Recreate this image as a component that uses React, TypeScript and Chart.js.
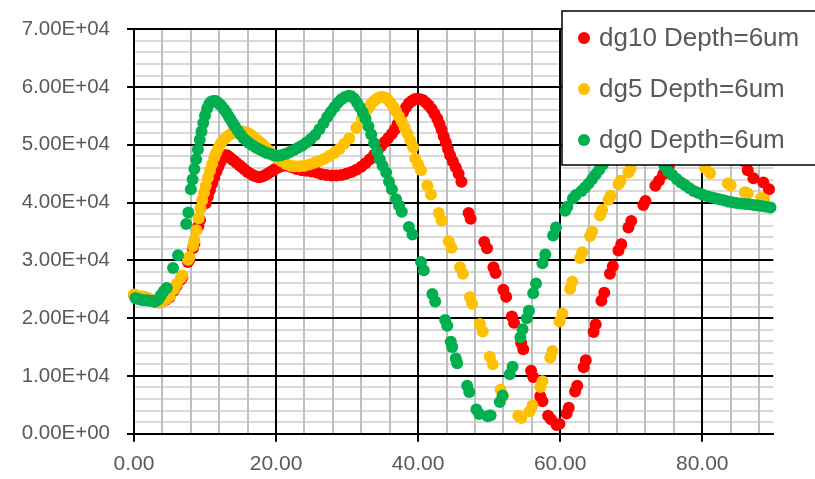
import React, { useEffect, useRef } from 'react';
import { Chart, registerables } from 'chart.js';

Chart.register(...registerables);

// ---- data ----
const seriesLabels = ['dg10 Depth=6um', 'dg5 Depth=6um', 'dg0 Depth=6um'];
const seriesColors = ['#FF0000', '#FFC000', '#00B050'];

const dg10X = [0.0, 0.5, 1.0, 1.5, 2.0, 2.5, 3.0, 3.5, 4.0, 4.5, 5.0, 5.6, 6.0, 6.6, 6.8, 7.6, 7.8, 8.3, 8.5, 9.05, 9.3, 10.1, 10.4, 10.7, 11.0, 11.3, 11.6, 11.9, 12.2, 12.5, 12.8, 13.1, 13.4, 13.7, 14.0, 14.4, 14.8, 15.2, 15.6, 16.0, 16.4, 16.8, 17.2, 17.6, 18.0, 18.4, 18.8, 19.2, 19.6, 20.0, 20.5, 21.0, 21.5, 22.2, 22.9, 23.6, 24.3, 25.0, 25.7, 26.4, 27.1, 27.8, 28.5, 29.2, 29.9, 30.6, 31.3, 32.0, 32.6, 33.2, 33.8, 34.3, 34.8, 35.3, 35.8, 36.3, 36.7, 37.1, 37.5, 37.9, 38.3, 38.7, 39.1, 39.5, 39.9, 40.3, 40.7, 41.1, 41.5, 41.9, 42.3, 42.7, 43.0, 43.3, 43.6, 43.9, 44.2, 44.5, 44.9, 45.3, 45.7, 46.1, 47.1, 47.4, 49.3, 49.7, 50.6, 50.9, 52.0, 52.4, 53.2, 53.5, 54.5, 54.8, 55.9, 56.2, 57.2, 57.5, 58.3, 58.7, 59.5, 59.9, 60.9, 61.2, 62.1, 62.4, 63.3, 63.6, 64.7, 65.0, 65.8, 66.2, 67.0, 67.4, 68.2, 68.6, 69.6, 70.0, 71.7, 72.0, 73.4, 73.9, 74.5, 75.3, 76.2, 77.1, 78.0, 78.9, 79.8, 80.7, 81.6, 82.5, 83.4, 84.3, 85.1, 85.8, 86.4, 87.2, 88.6, 89.4];
const dg10Y = [24000, 23800, 23700, 23600, 23400, 23100, 22800, 22700, 22900, 23200, 23600, 24800, 25600, 26700, 27100, 29700, 30200, 32100, 32900, 35900, 37000, 39900, 41000, 42200, 43300, 44400, 45400, 46300, 47100, 47800, 48200, 48200, 47900, 47600, 47300, 46900, 46500, 46100, 45700, 45300, 45000, 44700, 44500, 44400, 44500, 44700, 45000, 45300, 45600, 45900, 46200, 46400, 46400, 46100, 45800, 45600, 45500, 45400, 45200, 44900, 44800, 44700, 44700, 44800, 45000, 45300, 45700, 46200, 46800, 47500, 48300, 49000, 49800, 50500, 51200, 51900, 52600, 53600, 54700, 55700, 56500, 57200, 57600, 57900, 58000, 57900, 57700, 57300, 56800, 56200, 55400, 54500, 53600, 52600, 51500, 50400, 49300, 48200, 47100, 46100, 45000, 43600, 38200, 37200, 33200, 32100, 28800, 27800, 24900, 23700, 20300, 19200, 15700, 14600, 10900, 9800, 6500, 5600, 3100, 2500, 1500, 1700, 3500, 4500, 7300, 8300, 11500, 12700, 17600, 18900, 23000, 24400, 27700, 29000, 31700, 32800, 35700, 36800, 39600, 40300, 42900, 43800, 44900, 46400, 48500, 51000, 53600, 55800, 57200, 57900, 57700, 56600, 54600, 52000, 49400, 47200, 45600, 44200, 43500, 42300];

const dg5X = [0.0, 0.5, 1.0, 1.5, 2.0, 2.5, 3.0, 3.5, 4.0, 4.5, 5.0, 5.6, 6.0, 6.6, 6.8, 7.6, 7.8, 8.3, 8.5, 8.8, 9.1, 9.35, 9.6, 9.85, 10.1, 10.4, 10.7, 11.0, 11.3, 11.6, 11.9, 12.2, 12.5, 12.9, 13.3, 13.7, 14.1, 14.5, 14.9, 15.3, 15.7, 16.1, 16.5, 16.9, 17.3, 17.7, 18.1, 18.5, 18.9, 19.3, 19.7, 20.2, 20.8, 21.4, 22.0, 22.6, 23.3, 24.0, 24.7, 25.4, 26.1, 26.8, 27.5, 28.2, 28.9, 29.6, 30.3, 31.3, 32.1, 32.5, 32.9, 33.3, 33.7, 34.1, 34.5, 34.9, 35.3, 35.7, 36.1, 36.5, 36.9, 37.3, 37.7, 38.1, 38.5, 38.9, 39.3, 39.6, 40.0, 40.4, 41.3, 41.8, 42.9, 43.3, 44.3, 44.7, 45.9, 46.3, 47.3, 47.6, 48.7, 49.1, 50.1, 50.5, 51.6, 51.9, 54.1, 54.5, 55.7, 56.1, 57.2, 57.5, 58.6, 58.9, 59.9, 60.3, 61.4, 61.7, 62.8, 63.1, 64.2, 64.5, 65.6, 65.9, 66.8, 67.1, 68.2, 68.5, 69.6, 69.9, 70.6, 71.3, 72.0, 72.7, 73.4, 74.1, 74.8, 75.5, 76.2, 76.9, 77.6, 78.3, 79.0, 79.7, 80.4, 81.1, 83.6, 84.0, 86.0, 86.4, 88.3, 88.7];
const dg5Y = [24100, 23900, 23800, 23600, 23400, 23200, 22900, 22700, 22900, 23300, 23800, 25000, 25900, 27000, 27400, 30100, 30600, 32500, 33400, 35200, 37300, 39000, 40400, 41700, 42900, 44300, 45500, 46700, 47800, 48700, 49500, 50200, 50700, 51200, 51600, 51900, 52100, 52300, 52300, 52300, 52200, 52000, 51700, 51300, 50900, 50500, 50100, 49600, 49100, 48600, 48100, 47600, 47100, 46700, 46400, 46300, 46300, 46400, 46600, 46900, 47200, 47600, 48100, 48600, 49300, 50200, 51100, 52900, 54600, 55400, 56200, 56900, 57500, 57900, 58200, 58300, 58200, 57900, 57300, 56600, 55800, 54900, 54000, 53000, 51900, 50800, 49600, 47600, 46600, 45600, 42900, 41400, 38200, 36900, 33300, 32200, 28800, 27700, 23600, 22500, 19000, 17700, 13300, 12000, 7600, 6500, 3100, 2700, 3900, 4900, 8100, 9100, 13200, 14300, 19400, 20800, 25100, 26300, 30400, 31400, 34200, 35000, 37800, 38700, 40500, 41200, 43200, 43800, 45200, 45800, 47300, 49400, 51800, 54200, 56200, 57600, 58200, 58000, 57000, 55500, 53500, 51300, 49200, 47400, 46000, 45100, 43300, 43000, 41800, 41600, 40800, 40600];

const dg0X = [0.2, 0.6, 1.0, 1.4, 1.8, 2.2, 2.6, 3.0, 3.4, 3.8, 4.2, 4.6, 5.5, 6.2, 7.35, 7.65, 8.0, 8.25, 8.5, 8.75, 9.0, 9.25, 9.5, 9.75, 10.0, 10.3, 10.6, 10.9, 11.2, 11.5, 11.8, 12.1, 12.4, 12.7, 13.0, 13.3, 13.6, 13.9, 14.2, 14.6, 15.0, 15.4, 15.8, 16.2, 16.7, 17.2, 17.7, 18.2, 18.7, 19.2, 19.7, 20.2, 20.7, 21.3, 21.9, 22.5, 23.1, 23.7, 24.3, 24.9, 25.5, 26.1, 26.7, 27.2, 27.7, 28.2, 28.7, 29.2, 29.7, 30.2, 30.6, 31.0, 31.4, 31.8, 32.2, 32.6, 33.0, 33.4, 33.8, 34.2, 34.6, 35.0, 35.5, 35.9, 36.3, 36.9, 37.3, 37.7, 38.7, 39.2, 40.4, 40.8, 42.0, 42.4, 43.8, 44.1, 44.6, 44.8, 45.3, 45.5, 46.9, 47.2, 48.2, 48.6, 49.8, 50.2, 51.5, 51.9, 52.9, 53.3, 54.4, 54.7, 55.3, 55.6, 56.2, 56.6, 57.5, 57.9, 59.0, 59.4, 60.7, 61.0, 61.8, 62.2, 63.0, 63.5, 64.0, 64.5, 65.0, 65.5, 66.0, 66.6, 67.3, 68.0, 68.8, 69.6, 70.4, 71.2, 72.0, 72.6, 73.2, 73.7, 74.2, 74.7, 75.2, 75.8, 76.4, 77.0, 77.6, 78.2, 78.8, 79.4, 80.0, 80.6, 81.2, 81.8, 82.4, 83.0, 83.6, 84.2, 84.8, 85.4, 86.0, 86.6, 87.2, 87.8, 88.4, 89.0, 89.6];
const dg0Y = [23500, 23300, 23200, 23100, 23100, 23000, 23000, 22900, 23200, 24000, 24700, 25200, 28700, 30900, 36300, 38300, 42300, 44000, 45800, 47500, 49200, 50900, 52300, 53800, 55100, 56300, 57100, 57500, 57600, 57600, 57300, 57000, 56600, 56100, 55600, 55000, 54400, 53800, 53200, 52500, 51800, 51200, 50700, 50300, 49900, 49500, 49200, 48900, 48600, 48400, 48200, 48100, 48200, 48400, 48700, 49100, 49500, 49900, 50400, 51000, 51700, 52700, 53800, 54800, 55700, 56500, 57300, 57900, 58300, 58500, 58400, 58000, 57300, 56500, 55600, 54500, 53200, 51800, 50300, 48900, 47500, 46400, 45200, 43600, 42300, 40600, 39500, 38400, 35800, 34500, 29700, 28300, 24200, 22900, 19700, 18700, 15900, 15000, 13000, 12200, 8300, 7200, 4200, 3400, 3000, 3200, 5500, 6600, 10300, 11600, 16700, 18100, 20000, 21300, 24300, 26000, 29500, 31000, 34300, 35700, 38600, 39300, 40700, 41300, 42000, 42600, 43300, 44100, 44900, 45700, 46600, 47700, 49200, 50800, 52700, 54500, 56000, 57000, 57300, 56400, 53500, 50500, 48000, 46300, 45400, 44800, 44100, 43500, 43000, 42500, 42000, 41700, 41400, 41150, 40950, 40750, 40600, 40400, 40200, 40050, 39950, 39850, 39750, 39700, 39600, 39500, 39400, 39300, 39150];

const xMin = 0;
const xMax = 90;
const xMinorStep = 4;
const xMajorStep = 20;
const yMin = 0;
const yMax = 70000;
const yMinorStep = 2000;
const yMajorStep = 10000;

const toPoints = (xs: number[], ys: number[]) => xs.map((x, i) => ({ x, y: ys[i] }));

const sci = (v: number) => {
  if (v === 0) return '0.00E+00';
  const e = Math.floor(Math.log10(Math.abs(v)));
  const m = v / Math.pow(10, e);
  return `${m.toFixed(2)}E${e < 0 ? '-' : '+'}${String(Math.abs(e)).padStart(2, '0')}`;
};

const isMajor = (v: number, step: number) => Math.abs(Math.round(v / step) * step - v) < 1e-6;

const TEXT = '#595959';
const FONT = '"Liberation Sans", Arial, sans-serif';
const CLEAR = 'rgba(0,0,0,0)';

const boxLegend = {
  id: 'boxLegend',
  afterDraw(chart: any) {
    const ctx = chart.ctx as CanvasRenderingContext2D;
    const left = 562;
    const top = 11;
    const bottom = 165;
    ctx.save();
    ctx.fillStyle = '#ffffff';
    ctx.fillRect(left, top, 300, bottom - top);
    ctx.strokeStyle = '#000000';
    ctx.lineWidth = 1.5;
    ctx.strokeRect(left, top, 300, bottom - top);
    chart.data.datasets.forEach((ds: any, i: number) => {
      const cy = 38 + i * 51;
      ctx.fillStyle = ds.backgroundColor;
      ctx.beginPath();
      ctx.arc(584, cy, 6, 0, Math.PI * 2);
      ctx.fill();
      ctx.fillStyle = TEXT;
      ctx.font = `26px ${FONT}`;
      ctx.textBaseline = 'middle';
      ctx.textAlign = 'left';
      ctx.fillText(ds.label, 599, cy + 1);
    });
    ctx.restore();
  },
};

export default function App() {
  const ref = useRef<HTMLCanvasElement>(null);

  useEffect(() => {
    document.body.style.margin = '0';
    const seriesX = [dg10X, dg5X, dg0X];
    const seriesY = [dg10Y, dg5Y, dg0Y];
    const chart = new Chart(ref.current as HTMLCanvasElement, {
      type: 'scatter',
      data: {
        datasets: seriesLabels.map((label, i) => ({
          label,
          data: toPoints(seriesX[i], seriesY[i]),
          backgroundColor: seriesColors[i],
          borderColor: seriesColors[i],
          pointRadius: 6,
          pointBorderWidth: 0,
          pointHoverRadius: 6,
          showLine: false,
          clip: false as any,
          order: seriesLabels.length - i,
        })),
      },
      options: {
        animation: false,
        responsive: false,
        events: [],
        layout: { autoPadding: false, padding: { top: 25, right: 41.7, left: 0, bottom: 0 } },
        plugins: { legend: { display: false }, tooltip: { enabled: false } },
        scales: {
          x: {
            type: 'linear',
            position: 'bottom',
            min: xMin,
            max: xMax,
            afterFit: (s: any) => { s.height = 45.3; },
            ticks: {
              stepSize: xMajorStep,
              autoSkip: false,
              includeBounds: false,
              maxRotation: 0,
              padding: 10,
              color: TEXT,
              font: { family: FONT, size: 21 },
              callback: (v: any) => Number(v).toFixed(2),
            },
            grid: { color: '#000000', lineWidth: 2, tickLength: 8, tickColor: '#000000', z: 0 },
            border: { display: true, color: '#000000', width: 2 },
          },
          xMinor: {
            type: 'linear',
            position: 'bottom',
            min: xMin,
            max: xMax,
            afterFit: (s: any) => { s.height = 0; },
            ticks: { display: false, stepSize: xMinorStep, autoSkip: false, includeBounds: false },
            grid: {
              color: (c: any) => (c.tick && !isMajor(c.tick.value, xMajorStep) ? '#bfbfbf' : CLEAR),
              lineWidth: 2,
              drawTicks: false,
              z: -1,
            },
            border: { display: false },
          },
          y: {
            type: 'linear',
            position: 'left',
            min: yMin,
            max: yMax,
            afterFit: (s: any) => { s.width = 134; },
            ticks: {
              stepSize: yMajorStep,
              autoSkip: false,
              padding: 17,
              color: TEXT,
              font: { family: FONT, size: 20.5 },
              callback: (v: any) => sci(Number(v)),
            },
            grid: { color: '#000000', lineWidth: 2, tickLength: 7, tickColor: '#000000', z: 0 },
            border: { display: true, color: '#000000', width: 2 },
          },
          yMinor: {
            type: 'linear',
            position: 'left',
            min: yMin,
            max: yMax,
            afterFit: (s: any) => { s.width = 0; },
            ticks: { display: false, stepSize: yMinorStep, autoSkip: false },
            grid: {
              color: (c: any) => (c.tick && !isMajor(c.tick.value, yMajorStep) ? '#d9d9d9' : CLEAR),
              lineWidth: 2,
              drawTicks: false,
              z: -2,
            },
            border: { display: false },
          },
        },
      } as any,
      plugins: [boxLegend],
    });
    return () => chart.destroy();
  }, []);

  return (
    <div style={{ width: 815, height: 479, background: '#ffffff' }}>
      <canvas ref={ref} width={815} height={479} style={{ display: 'block' }} />
    </div>
  );
}
